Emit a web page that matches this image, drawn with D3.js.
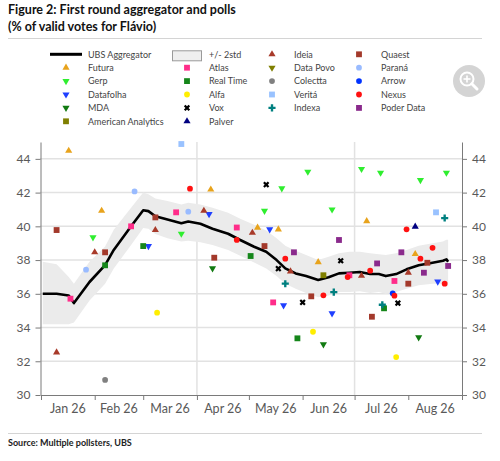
<!DOCTYPE html>
<html>
<head>
<meta charset="utf-8">
<script src="https://cdn.jsdelivr.net/npm/d3@7"></script>
<style>
body { margin: 0; background: #fff; }
text { font-family: Lato, "Open Sans", sans-serif; }
</style>
</head>
<body>
<svg width="500" height="461"></svg>
<script>
// UBS aggregator and +/- 2 std band
var aggDates = ["2026-01-02","2026-01-10","2026-01-17","2026-01-20","2026-01-29","2026-02-07","2026-02-12","2026-02-22","2026-03-01","2026-03-04",
  "2026-03-08","2026-03-15","2026-03-23","2026-03-27","2026-04-03","2026-04-10","2026-04-19","2026-04-26","2026-05-04","2026-05-11",
  "2026-05-17","2026-05-22","2026-05-28","2026-06-03","2026-06-10","2026-06-16","2026-06-22","2026-06-28","2026-07-04","2026-07-10",
  "2026-07-15","2026-07-19","2026-07-25","2026-07-31","2026-08-07","2026-08-15","2026-08-21","2026-08-23","2026-08-24"];
var aggValues = [36.0,36.0,35.9,35.45,36.7,37.7,38.6,40.0,40.95,40.9,
  40.6,40.4,40.18,40.29,40.15,39.86,39.56,39.19,38.79,38.49,
  38.0,37.51,37.21,37.05,36.82,36.98,37.21,37.25,37.29,37.17,
  37.17,37.05,37.17,37.45,37.69,37.84,37.96,38.04,37.9];
var bandLow = [34.2,34.2,34.2,34.3,35.6,36.6,37.5,38.9,39.9,39.85,
  39.55,39.3,39.1,39.15,39.05,38.9,38.6,38.25,37.85,37.5,
  37.05,36.6,36.3,36.05,35.8,35.9,36.1,36.1,36.15,36.05,
  36.1,36.0,36.1,36.3,36.5,36.6,36.6,36.6,36.4];
var bandHigh = [37.9,37.75,37.0,36.6,37.9,38.8,39.8,41.1,42.0,41.9,
  41.65,41.5,41.3,41.4,41.3,41.1,40.8,40.45,40.1,39.75,
  39.3,38.85,38.55,38.3,38.0,38.2,38.4,38.5,38.5,38.4,
  38.35,38.3,38.4,38.6,38.85,39.0,39.1,39.2,39.2];

// polls: [date, % of valid votes]
var futura = [["2026-01-17",44.48],["2026-02-05",40.92],["2026-04-09",42.18],["2026-05-06",39.92],["2026-05-18",39.82],["2026-06-10",37.88],["2026-07-08",40.31],["2026-08-05",38.36]];
var gerp = [["2026-01-31",39.35],["2026-03-23",39.56],["2026-05-10",40.92],["2026-05-20",42.25],["2026-06-04",43.24],["2026-06-18",41.0],["2026-07-05",43.4],["2026-07-16",43.18],["2026-08-08",42.74],["2026-08-23",43.18]];
var datafolha = [["2026-03-04",38.83],["2026-04-08",40.73],["2026-05-13",39.82],["2026-05-21",35.32],["2026-06-18",34.84],["2026-08-18",36.72]];
var mda = [["2026-04-10",37.51],["2026-06-13",33.0],["2026-08-07",33.42]];
var americanAnalytics = [["2026-06-13",37.1]];
var atlas = [["2026-01-18",35.71],["2026-02-22",40.0],["2026-03-20",40.83],["2026-04-24",39.93],["2026-05-15",35.49],["2026-06-28",37.1],["2026-07-24",36.76]];
var realTime = [["2026-02-07",37.69],["2026-03-01",38.83],["2026-05-02",38.24],["2026-05-29",33.36],["2026-07-18",35.14]];
var alfa = [["2026-03-09",34.88],["2026-06-07",33.75],["2026-07-25",32.25]];
var vox = [["2026-05-11",42.47],["2026-05-18",37.49],["2026-06-01",35.49],["2026-06-23",37.96],["2026-07-26",35.45]];
var palver = [["2026-08-05",39.98]];
var ideia = [["2026-01-10",32.53],["2026-02-01",38.46],["2026-03-08",39.78],["2026-04-05",40.92],["2026-05-03",39.62],["2026-05-25",37.33],["2026-07-05",37.07],["2026-08-01",37.25]];
var dataPovo = [];
var colectta = [["2026-02-07",30.89]];
var verita = [["2026-03-23",44.88],["2026-08-17",40.83]];
var indexa = [["2026-05-22",36.6],["2026-06-19",36.1],["2026-07-17",35.35],["2026-08-22",40.49]];
var quaest = [["2026-01-10",39.78],["2026-02-07",38.46],["2026-03-08",40.53],["2026-04-11",38.14],["2026-05-10",38.83],["2026-06-06",35.85],["2026-07-11",34.64],["2026-08-01",36.6],["2026-08-12",37.84]];
var parana = [["2026-01-27",37.43],["2026-02-24",42.07],["2026-03-27",40.87]];
var arrow = [["2026-07-23",36.03]];
var nexus = [["2026-03-28",42.23],["2026-04-24",39.19],["2026-05-22",38.08],["2026-06-13",35.91],["2026-06-27",36.99],["2026-07-10",37.37],["2026-07-24",35.89],["2026-07-31",39.82],["2026-08-08",38.08],["2026-08-15",38.73],["2026-08-22",36.6]];
var poderData = [["2026-05-27",38.46],["2026-06-22",39.19],["2026-07-14",37.8],["2026-07-28",38.46],["2026-08-10",37.25],["2026-08-24",37.65]];

var yTicks = [30, 32, 34, 36, 38, 40, 42, 44];
var monthLabels = ["Jan 26","Feb 26","Mar 26","Apr 26","May 26","Jun 26","Jul 26","Aug 26"];

// pollster -> marker style, in legend order (column by column)
var pollsters = [
  {name: "Futura", data: futura, shape: "triUp", color: "#e8a31c"},
  {name: "Gerp", data: gerp, shape: "triDown", color: "#2fee2f"},
  {name: "Datafolha", data: datafolha, shape: "triDown", color: "#1f3fff"},
  {name: "MDA", data: mda, shape: "triDown", color: "#117a11"},
  {name: "American Analytics", data: americanAnalytics, shape: "square", color: "#7f7f00"},
  {name: "Atlas", data: atlas, shape: "square", color: "#ff2d8a"},
  {name: "Real Time", data: realTime, shape: "square", color: "#15861a"},
  {name: "Alfa", data: alfa, shape: "circle", color: "#ffee00"},
  {name: "Vox", data: vox, shape: "x", color: "#000000"},
  {name: "Palver", data: palver, shape: "triUp", color: "#000080"},
  {name: "Ideia", data: ideia, shape: "triUp", color: "#a83a2a"},
  {name: "Data Povo", data: dataPovo, shape: "triDown", color: "#7f7f00"},
  {name: "Colectta", data: colectta, shape: "circle", color: "#808080"},
  {name: "Veritá", data: verita, shape: "square", color: "#99c2ff"},
  {name: "Indexa", data: indexa, shape: "plus", color: "#008080"},
  {name: "Quaest", data: quaest, shape: "square", color: "#a3392b"},
  {name: "Paraná", data: parana, shape: "circle", color: "#99bbff"},
  {name: "Arrow", data: arrow, shape: "circle", color: "#0033ff"},
  {name: "Nexus", data: nexus, shape: "circle", color: "#ff1111"},
  {name: "Poder Data", data: poderData, shape: "square", color: "#8a2a8c"}
];
var legendCols = [
  ["UBS Aggregator","Futura","Gerp","Datafolha","MDA","American Analytics"],
  ["+/- 2std","Atlas","Real Time","Alfa","Vox","Palver"],
  ["Ideia","Data Povo","Colectta","Veritá","Indexa"],
  ["Quaest","Paraná","Arrow","Nexus","Poder Data"]
];

var parse = d3.utcParse("%Y-%m-%d");
var svg = d3.select("svg");

var x = d3.scaleUtc().domain([parse("2026-01-01"), parse("2026-09-01")]).range([41, 462]);
var y = d3.scaleLinear().domain([30, 45]).range([395, 142]);

// symbols
var symbolPath = {
  triUp: d3.symbol().type(d3.symbolTriangle).size(22)(),
  triDown: d3.symbol().type(d3.symbolTriangle).size(22)(),
  square: d3.symbol().type(d3.symbolSquare).size(34)(),
  circle: d3.symbol().type(d3.symbolCircle).size(26)(),
  x: d3.symbol().type(d3.symbolCross).size(24)(),
  plus: d3.symbol().type(d3.symbolCross).size(28)()
};
var symbolRot = {triUp: 0, triDown: 180, square: 0, circle: 0, x: 45, plus: 0};

function drawMarker(g, shape, color, px, py) {
  g.append("path")
    .attr("d", symbolPath[shape])
    .attr("transform", "translate(" + px + "," + py + ") rotate(" + symbolRot[shape] + ")")
    .attr("fill", color);
}

// title
svg.append("text").attr("x", 8).attr("y", 13.5)
  .attr("font-size", 12.5).attr("font-weight", "bold").attr("fill", "#111")
  .text("Figure 2: First round aggregator and polls");
svg.append("text").attr("x", 8).attr("y", 31)
  .attr("font-size", 12.5).attr("font-weight", "bold").attr("fill", "#111")
  .text("(% of valid votes for Flávio)");
svg.append("line").attr("x1", 8).attr("x2", 482).attr("y1", 38.5).attr("y2", 38.5)
  .attr("stroke", "#d4d4d4").attr("stroke-width", 1);

// legend
var colX = [66, 187, 272, 359];
var styleByName = {};
pollsters.forEach(function(p) { styleByName[p.name] = p; });
legendCols.forEach(function(names, c) {
  names.forEach(function(name, r) {
    var cy = 54.3 + r * 13.4;
    var lg = svg.append("g");
    if (name == "UBS Aggregator") {
      lg.append("line").attr("x1", colX[c] - 16).attr("x2", colX[c] + 16)
        .attr("y1", cy).attr("y2", cy).attr("stroke", "#000").attr("stroke-width", 3);
    } else if (name == "+/- 2std") {
      lg.append("rect").attr("x", colX[c] - 14.5).attr("y", cy - 3.5).attr("width", 29).attr("height", 10)
        .attr("fill", "#efefef").attr("stroke", "#9a9a9a").attr("stroke-width", 1);
    } else {
      var s = styleByName[name];
      drawMarker(lg, s.shape, s.color, colX[c], cy);
    }
    lg.append("text").attr("x", colX[c] + 22).attr("y", cy + 3.2)
      .attr("font-size", 9).attr("fill", "#444").text(name);
  });
});

// zoom button of the page
var zb = svg.append("g").attr("transform", "translate(469,81)");
zb.append("circle").attr("r", 16).attr("fill", "#cfcfcf").attr("opacity", 0.9);
zb.append("circle").attr("cx", -2).attr("cy", -2).attr("r", 6.5).attr("fill", "none").attr("stroke", "#fff").attr("stroke-width", 2);
zb.append("line").attr("x1", 2.8).attr("y1", 2.8).attr("x2", 8).attr("y2", 8).attr("stroke", "#fff").attr("stroke-width", 3).attr("stroke-linecap", "round");
zb.append("line").attr("x1", -5.5).attr("x2", 1.5).attr("y1", -2).attr("y2", -2).attr("stroke", "#fff").attr("stroke-width", 1.6);
zb.append("line").attr("x1", -2).attr("x2", -2).attr("y1", -5.5).attr("y2", 1.5).attr("stroke", "#fff").attr("stroke-width", 1.6);

// grid
var grid = svg.append("g");
grid.selectAll(".hg").data(yTicks.slice(1)).enter().append("line")
  .attr("x1", 40).attr("x2", 462)
  .attr("y1", function(d) { return y(d); }).attr("y2", function(d) { return y(d); })
  .attr("stroke", "#e2e2e2").attr("stroke-width", 1.5);
grid.selectAll(".vg").data([parse("2026-04-01"), parse("2026-07-01")]).enter().append("line")
  .attr("x1", function(d) { return x(d); }).attr("x2", function(d) { return x(d); })
  .attr("y1", y(45)).attr("y2", y(30))
  .attr("stroke", "#e2e2e2").attr("stroke-width", 1.5);

// band and aggregator line
var agg = aggDates.map(function(d, i) {
  return {date: parse(d), v: aggValues[i], lo: bandLow[i], hi: bandHigh[i]};
});
svg.append("path").datum(agg)
  .attr("d", d3.area().x(function(d) { return x(d.date); })
    .y0(function(d) { return y(d.lo); }).y1(function(d) { return y(d.hi); }))
  .attr("fill", "#ebebeb");
svg.append("path").datum(agg)
  .attr("d", d3.line().x(function(d) { return x(d.date); }).y(function(d) { return y(d.v); }))
  .attr("fill", "none").attr("stroke", "#000").attr("stroke-width", 2.6).attr("stroke-linejoin", "round");

// polls
var pts = svg.append("g");
pollsters.forEach(function(p) {
  p.data.forEach(function(d) {
    drawMarker(pts, p.shape, p.color, x(parse(d[0])), y(d[1]));
  });
});

// axes
var axisColor = "#7a7a7a", labelColor = "#595959";
function styleAxis(g) {
  g.selectAll(".domain, .tick line").attr("stroke", axisColor);
  g.selectAll("text").attr("fill", labelColor).attr("font-size", 12)
    .style("font-family", "Lato, 'Open Sans', sans-serif");
}
svg.append("g").attr("transform", "translate(40.5,0)")
  .call(d3.axisLeft(y).tickValues(yTicks).tickSize(5).tickSizeOuter(0).tickPadding(5))
  .call(styleAxis);
svg.append("g").attr("transform", "translate(462,0)")
  .call(d3.axisRight(y).tickValues(yTicks).tickSize(5).tickSizeOuter(0).tickPadding(5))
  .call(styleAxis);
var months = x.ticks(d3.utcMonth.every(1));
svg.append("g").attr("transform", "translate(0,395)")
  .call(d3.axisBottom(x).tickValues(months).tickSize(5).tickSizeOuter(0).tickFormat(""))
  .call(styleAxis);
svg.append("g").selectAll("text").data(monthLabels).enter().append("text")
  .attr("x", function(d, i) { return (x(months[i]) + x(months[i + 1])) / 2; })
  .attr("y", 413).attr("text-anchor", "middle")
  .attr("font-size", 12.5).attr("fill", labelColor)
  .text(function(d) { return d; });

// source
svg.append("line").attr("x1", 8).attr("x2", 482).attr("y1", 433.5).attr("y2", 433.5)
  .attr("stroke", "#d4d4d4").attr("stroke-width", 1);
svg.append("text").attr("x", 8).attr("y", 445.5)
  .attr("font-size", 9).attr("font-weight", "bold").attr("fill", "#222")
  .text("Source: Multiple pollsters, UBS");
</script>
</body>
</html>
